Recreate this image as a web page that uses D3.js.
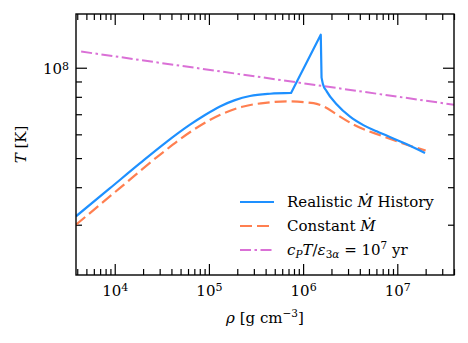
<!DOCTYPE html>
<html>
<head>
<meta charset="utf-8">
<script src="https://cdn.jsdelivr.net/npm/d3@7"></script>
<style>
  body { margin: 0; background: #fff; }
  svg { font-family: "DejaVu Serif", serif; }
  .tick line { stroke: #000; stroke-width: 1.2; }
  .tick text.lbl { font-family: "DejaVu Serif", serif; }
</style>
</head>
<body>
<div class="chart"></div>
<script>
// values (rho in g/cm^3, T in K)
var realRho = [3.88e3, 8.91e3, 1.86e4, 3.42e4, 6.30e4, 9.09e4, 1.31e5, 1.89e5, 2.73e5, 4.46e5, 7.45e5,
               1.54e6, 1.57e6, 1.62e6, 1.78e6, 2.28e6, 3.15e6, 4.36e6, 6.04e6, 1.16e7, 1.97e7];
var realT = [3.20e7, 3.97e7, 4.81e7, 5.61e7, 6.46e7, 6.96e7, 7.43e7, 7.80e7, 8.05e7, 8.19e7, 8.24e7,
             1.288e8, 9.27e7, 8.85e7, 8.34e7, 7.54e7, 6.87e7, 6.44e7, 6.14e7, 5.62e7, 5.20e7];

var constRho = [3.88e3, 1.14e4, 3.34e4, 6.86e4, 1.32e5, 2.33e5, 3.97e5, 6.76e5,
                1.29e6, 1.66e6, 2.30e6, 3.45e6, 7.19e6, 1.28e7, 2.0e7];
var constT = [3.0e7, 3.98e7, 5.26e7, 6.21e7, 6.97e7, 7.43e7, 7.64e7, 7.73e7,
              7.62e7, 7.43e7, 6.97e7, 6.46e7, 5.90e7, 5.53e7, 5.30e7];

var timeRho = [4.4e3, 4.0e7];
var timeT = [1.132e8, 7.53e7];

var xMajorTicks = [1e4, 1e5, 1e6, 1e7];
var yMajorTicks = [1e8];

var legendLabels = ["Realistic", "Constant", "time"];

var svgWidth = 468;
var svgHeight = 343;

var margin = { top: 14, right: 14, bottom: 68, left: 76 };

var width = svgWidth - margin.left - margin.right;
var height = svgHeight - margin.top - margin.bottom;

var svg = d3.select(".chart")
    .append("svg")
    .attr("width", svgWidth)
    .attr("height", svgHeight);

var chartGroup = svg.append("g")
    .attr("transform", `translate(${margin.left}, ${margin.top})`);

var xLogScale = d3.scaleLog()
    .domain([3.88e3, 4.0e7])
    .range([0, width]);

var yLogScale = d3.scaleLog()
    .domain([2.04e7, 1.51e8])
    .range([height, 0]);

// minor ticks 2..9 x 10^k inside the domain
function minorTicks(scale) {
    var dom = scale.domain(), out = [];
    for (var e = Math.floor(Math.log10(dom[0])); e <= Math.ceil(Math.log10(dom[1])); e++) {
        for (var m = 2; m <= 9; m++) {
            var v = m * Math.pow(10, e);
            if (v >= dom[0] && v <= dom[1]) out.push(v);
        }
    }
    return out;
}

var majorLen = 11, minorLen = 6;

function addAxis(axisFn, scale, values, len, transform) {
    var g = chartGroup.append("g")
        .attr("transform", transform)
        .call(axisFn(scale).tickValues(values).tickSize(-len).tickFormat(""));
    g.select(".domain").remove();
    return g;
}

// bottom / top
addAxis(d3.axisBottom, xLogScale, minorTicks(xLogScale), minorLen, `translate(0, ${height})`);
var xAxisG = addAxis(d3.axisBottom, xLogScale, xMajorTicks, majorLen, `translate(0, ${height})`);
addAxis(d3.axisTop, xLogScale, minorTicks(xLogScale), minorLen, "translate(0, 0)");
addAxis(d3.axisTop, xLogScale, xMajorTicks, majorLen, "translate(0, 0)");

// left / right
addAxis(d3.axisLeft, yLogScale, minorTicks(yLogScale), minorLen, "translate(0, 0)");
var yAxisG = addAxis(d3.axisLeft, yLogScale, yMajorTicks, majorLen, "translate(0, 0)");
addAxis(d3.axisRight, yLogScale, minorTicks(yLogScale), minorLen, `translate(${width}, 0)`);
addAxis(d3.axisRight, yLogScale, yMajorTicks, majorLen, `translate(${width}, 0)`);

// power-of-ten tick labels
function powLabel(sel) {
    sel.each(function(d) {
        var t = d3.select(this);
        t.text("10");
        t.append("tspan")
            .attr("dy", "-0.42em")
            .attr("font-size", "11px")
            .text(Math.round(Math.log10(d)));
    });
}

xAxisG.selectAll(".tick").append("text")
    .attr("class", "lbl")
    .attr("y", 21)
    .attr("text-anchor", "middle")
    .attr("font-size", "15px")
    .attr("fill", "#000")
    .call(powLabel);

yAxisG.selectAll(".tick").append("text")
    .attr("class", "lbl")
    .attr("x", -7)
    .attr("y", 6)
    .attr("text-anchor", "end")
    .attr("font-size", "15px")
    .attr("fill", "#000")
    .call(powLabel);

// lines
chartGroup.append("clipPath").attr("id", "plotClip")
    .append("rect").attr("width", width).attr("height", height);

var smoothLine = d3.line()
    .x(d => xLogScale(d[0]))
    .y(d => yLogScale(d[1]))
    .curve(d3.curveMonotoneX);

var straightLine = d3.line()
    .x(d => xLogScale(d[0]))
    .y(d => yLogScale(d[1]));

var realPts = d3.zip(realRho, realT);
var constPts = d3.zip(constRho, constT);
var timePts = d3.zip(timeRho, timeT);

// the spike is straight, the rest is smooth
var realPath = smoothLine(realPts.slice(0, 11))
    + straightLine(realPts.slice(10, 13)).replace(/^M/, "L")
    + smoothLine(realPts.slice(12)).replace(/^M/, "L");

var linesGroup = chartGroup.append("g").attr("clip-path", "url(#plotClip)");

var orangeDash = "12,5";
var pinkDash = "11,3.5,2.5,3.5";

linesGroup.append("path")
    .attr("d", straightLine(timePts))
    .attr("fill", "none")
    .attr("stroke", "orchid")
    .attr("stroke-width", 2)
    .attr("stroke-dasharray", pinkDash);

linesGroup.append("path")
    .attr("d", smoothLine(constPts))
    .attr("fill", "none")
    .attr("stroke", "coral")
    .attr("stroke-width", 2.2)
    .attr("stroke-dasharray", orangeDash);

linesGroup.append("path")
    .attr("d", realPath)
    .attr("fill", "none")
    .attr("stroke", "dodgerblue")
    .attr("stroke-width", 2.2)
    .attr("stroke-linejoin", "round");

// frame
chartGroup.append("rect")
    .attr("width", width)
    .attr("height", height)
    .attr("fill", "none")
    .attr("stroke", "#000")
    .attr("stroke-width", 1.4);

// legend
var legendStyles = [
    { color: "dodgerblue", dash: null },
    { color: "coral", dash: orangeDash },
    { color: "orchid", dash: pinkDash }
];

var legend = svg.append("g").attr("transform", "translate(240, 202)");

legendLabels.forEach(function(name, i) {
    var row = legend.append("g").attr("transform", `translate(0, ${i * 24})`);
    row.append("line")
        .attr("x1", 0).attr("x2", 34)
        .attr("stroke", legendStyles[i].color)
        .attr("stroke-width", 2.2)
        .attr("stroke-dasharray", legendStyles[i].dash);
    var t = row.append("text")
        .attr("x", 47)
        .attr("y", 5)
        .attr("font-size", "15px")
        .attr("fill", "#000");
    if (name == "Realistic") {
        t.append("tspan").text("Realistic ");
        t.append("tspan").attr("font-style", "italic").text("Ṁ");
        t.append("tspan").text(" History");
    } else if (name == "Constant") {
        t.append("tspan").text("Constant ");
        t.append("tspan").attr("font-style", "italic").text("Ṁ");
    } else {
        t.append("tspan").attr("font-style", "italic").text("c");
        t.append("tspan").attr("font-style", "italic").attr("font-size", "10.5px").attr("dy", 3).text("P");
        t.append("tspan").attr("font-style", "italic").attr("dy", -3).text("T");
        t.append("tspan").text("/");
        t.append("tspan").attr("font-style", "italic").text("ε");
        t.append("tspan").attr("font-size", "10.5px").attr("dy", 3).text("3");
        t.append("tspan").attr("font-size", "10.5px").attr("font-style", "italic").text("α");
        t.append("tspan").attr("dy", -3).text(" = 10");
        t.append("tspan").attr("font-size", "10.5px").attr("dy", -6).text("7");
        t.append("tspan").attr("dy", 6).text(" yr");
    }
});

// axis labels
var yLabel = chartGroup.append("text")
    .attr("transform", "rotate(-90)")
    .attr("y", 26 - margin.left)
    .attr("x", 0 - (height / 2))
    .attr("text-anchor", "middle")
    .attr("font-size", "15px");
yLabel.append("tspan").attr("font-style", "italic").text("T");
yLabel.append("tspan").text(" [K]");

var xLabel = chartGroup.append("text")
    .attr("transform", `translate(${width / 2}, ${height + 48})`)
    .attr("text-anchor", "middle")
    .attr("font-size", "15px");
xLabel.append("tspan").attr("font-style", "italic").text("ρ");
xLabel.append("tspan").text(" [g cm");
xLabel.append("tspan").attr("font-size", "10.5px").attr("dy", -6).text("−3");
xLabel.append("tspan").attr("dy", 6).text("]");
</script>
</body>
</html>
